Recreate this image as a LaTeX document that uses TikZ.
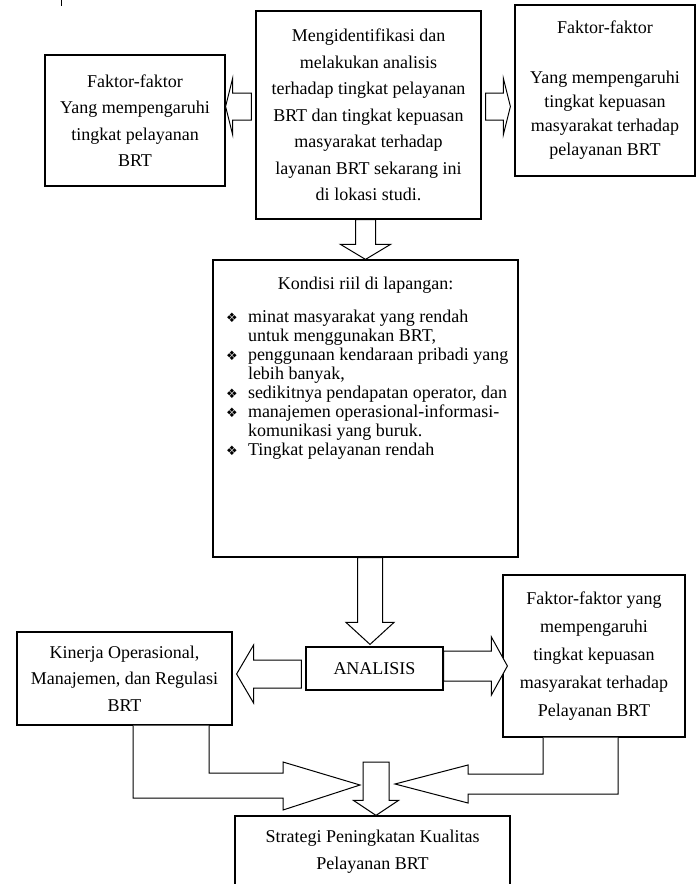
\documentclass[tikz,border=0pt]{standalone}
\usepackage{fontspec}
\setmainfont{Liberation Serif}
\newfontfamily\dingfont{DejaVu Sans}
\usetikzlibrary{calc}

\newcommand{\itm}[1]{\par\noindent\hangindent=35pt\hangafter=1%
  \makebox[35pt][l]{\hspace{13pt}{\dingfont\fontsize{13}{13}\selectfont ❖}}#1\par}

\newcommand{\fatarrow}[5]{%
  \draw[fat] let \p1=#1, \p2=#2,
    \n1={atan2(\y2-\y1,\x2-\x1)}, \n2={veclen(\x2-\x1,\y2-\y1)} in
    ($(\p1)+(\n1+90:#3)$) -- ($(\p1)+(\n1:\n2-#5)+(\n1+90:#3)$)
    -- ($(\p1)+(\n1:\n2-#5)+(\n1+90:#4)$) -- (\p2)
    -- ($(\p1)+(\n1:\n2-#5)+(\n1-90:#4)$) -- ($(\p1)+(\n1:\n2-#5)+(\n1-90:#3)$)
    -- ($(\p1)+(\n1-90:#3)$) -- cycle;}

\begin{document}
\begin{tikzpicture}[x=1pt,y=1pt,
 box/.style={draw,line width=1.2pt,align=center,inner sep=0pt,font=\fontsize{18}{26.5}\selectfont},
 fat/.style={draw,fill=white,line width=1pt,line join=miter}]
\useasboundingbox (0,0) rectangle (698,-884);
\draw[line width=0.8pt] (61,0) -- (61,-6);
\node[box,minimum width=225pt,minimum height=208pt] (main) at (368.5,-115) {Mengidentifikasi dan\\ melakukan analisis\\ terhadap tingkat pelayanan\\ BRT dan tingkat kepuasan\\ masyarakat terhadap\\ layanan BRT sekarang ini\\ di lokasi studi.};
\node[box,minimum width=180pt,minimum height=131pt] (left) at (135,-120.5) {Faktor-faktor\\ Yang mempengaruhi\\ tingkat pelayanan\\ BRT};
\node[box,minimum width=180pt,minimum height=171pt,font=\fontsize{18}{24}\selectfont] (right) at (605,-90.5) {Faktor-faktor\\[26pt] Yang mempengaruhi\\ tingkat kepuasan\\ masyarakat terhadap\\ pelayanan BRT};
\node[box,minimum width=305pt,minimum height=297pt,font=\fontsize{18}{19.1}\selectfont] (kondisi) at (365.5,-408.5) {\parbox[c][297pt][t]{305pt}{\centering\rule{0pt}{29pt}Kondisi riil di lapangan:\par
 \vspace{14pt}\raggedright
 \itm{minat masyarakat yang rendah\newline untuk menggunakan BRT,}
 \itm{penggunaan kendaraan pribadi yang\newline lebih banyak,}
 \itm{sedikitnya pendapatan operator, dan}
 \itm{manajemen operasional-informasi-\newline komunikasi yang buruk.}
 \itm{Tingkat pelayanan rendah}}};
\node[box,minimum width=137pt,minimum height=43pt] (analisis) at (374.5,-668.5) {ANALISIS};
\node[box,minimum width=215pt,minimum height=93pt] (kin) at (124.5,-678.5) {Kinerja Operasional,\\ Manajemen, dan Regulasi\\ BRT};
\node[box,minimum width=182pt,minimum height=162pt,font=\fontsize{18}{28}\selectfont] (fak) at (594,-656) {Faktor-faktor yang\\ mempengaruhi\\ tingkat kepuasan\\ masyarakat terhadap\\ Pelayanan BRT};
\node[box,minimum width=275pt,minimum height=72pt,font=\fontsize{18}{27}\selectfont] (strat) at (372.5,-852) {Strategi Peningkatan Kualitas\\ Pelayanan BRT};
\coordinate (join) at (376,-762);

\fatarrow{($(main.west)+(-4,8.5)$)}{($(left.east)+(0,14)$)}{13.5}{28}{7}
\fatarrow{($(main.east)+(4,8.5)$)}{($(right.west)+(-4,-16)$)}{13.5}{28}{7}
\fatarrow{(main.south -| kondisi.north)}{(kondisi.north)}{10}{25}{15}
\fatarrow{($(kondisi.south)+(4.5,0)$)}{($(analisis.north)+(-4.5,2)$)}{12.5}{24}{22}
\fatarrow{($(analisis.west)+(-4,-5.5)$)}{($(kin.east)+(4,4.5)$)}{14}{29}{17}
\fatarrow{($(analisis.east)+(0,2.5)$)}{($(fak.west)+(5,-10)$)}{15}{29}{16}
\draw[fat] (kin.south -| 209,0) -- (209,-773) -- (283,-773) -- (283,-762) -- (360,-785)
 -- (283,-810) -- (283,-798) -- (133,-798) -- (kin.south -| 133,0);
\draw[fat] (fak.south -| 543,0) -- (543,-774) -- (468,-774) -- (468,-765) -- (395,-784)
 -- (468,-803) -- (468,-794) -- (618,-794) -- (fak.south -| 618,0);
\fatarrow{(join)}{(join |- strat.north)}{13}{22.5}{15}
\end{tikzpicture}
\end{document}
